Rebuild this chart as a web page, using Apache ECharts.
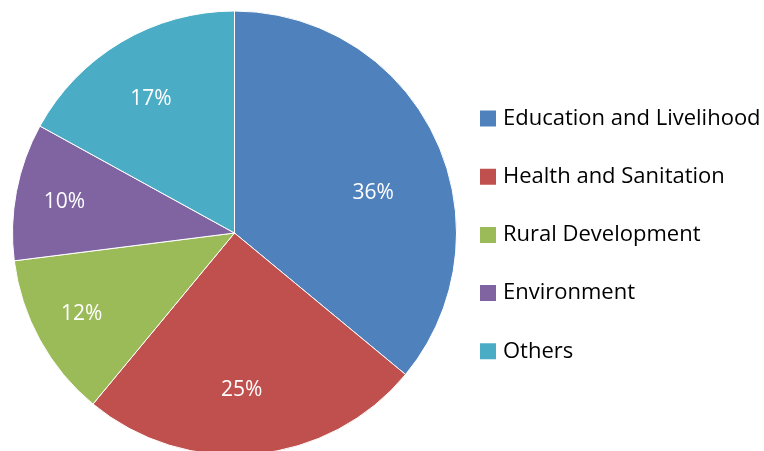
<!DOCTYPE html>
<html><head><meta charset="utf-8">
<script src="https://cdn.jsdelivr.net/npm/echarts@6/dist/echarts.min.js"></script>
<style>html,body{margin:0;padding:0;background:#fff}#c{width:764px;height:451px}</style>
</head><body><div id="c"></div>
<script>
const categories = ['Education and Livelihood','Health and Sanitation','Rural Development','Environment','Others'];
const values = [36, 25, 12, 10, 17];
const colors = ['#4F81BD','#C0504D','#9BBB59','#8064A2','#4BACC6'];

const labelShift = [[-17,33],[-9,-14],[-2,-2],[-1,1],[4,14]];

const chart = echarts.init(document.getElementById('c'), null, {renderer:'canvas'});
const baseData = categories.map((n,i)=>({name:n, value:values[i], itemStyle:{color:colors[i]}}));
const labelData = categories.map((n,i)=>({name:n, value:values[i], label:{offset:labelShift[i]}}));
chart.setOption({
  animation:false,
  legend:{
    orient:'vertical', left:478, top:107.5, padding:0,
    icon:'rect', itemWidth:18, itemHeight:18, itemGap:36.2,
    data:categories,
    textStyle:{fontFamily:'Open Sans', fontSize:22, lineHeight:22, color:'#000', padding:[0,0,0,1]}
  },
  series:[
    {type:'pie', center:[234.5,233], radius:[0,222], startAngle:90, clockwise:true,
     data:baseData, label:{show:false}, labelLine:{show:false},
     itemStyle:{borderColor:'#fff', borderWidth:1}, silent:true},
    {type:'pie', center:[234.5,233], radius:[116,222], startAngle:90, clockwise:true,
     data:labelData, itemStyle:{color:'rgba(0,0,0,0)'}, silent:true,
     label:{show:true, position:'inside', formatter:'{c}%', color:'#fff', fontFamily:'Open Sans', fontSize:21},
     labelLine:{show:false}}
  ]
});
</script></body></html>
